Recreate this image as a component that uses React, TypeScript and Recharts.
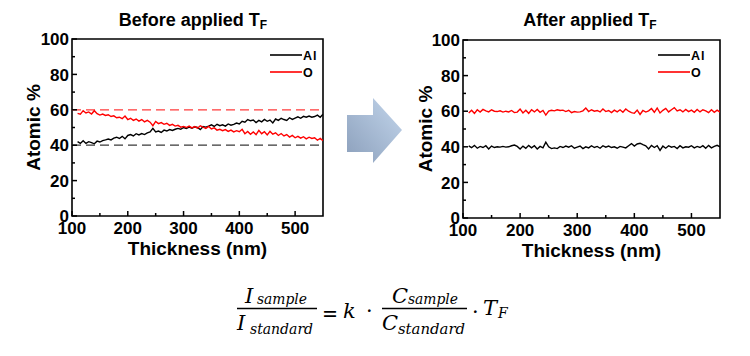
import React from 'react';
import { LineChart, Line, XAxis, YAxis, ReferenceLine, ReferenceArea, Legend, Label } from 'recharts';

const thickness = [
  110, 115, 120, 125, 130, 135, 140, 145, 150, 155,
  160, 165, 170, 175, 180, 185, 190, 195, 200, 205,
  210, 215, 220, 225, 230, 235, 240, 245, 250, 255,
  260, 265, 270, 275, 280, 285, 290, 295, 300, 305,
  310, 315, 320, 325, 330, 335, 340, 345, 350, 355,
  360, 365, 370, 375, 380, 385, 390, 395, 400, 405,
  410, 415, 420, 425, 430, 435, 440, 445, 450, 455,
  460, 465, 470, 475, 480, 485, 490, 495, 500, 505,
  510, 515, 520, 525, 530, 535, 540, 545, 550,
];

const beforeAl = [
  42, 41, 42.5, 41, 42, 41.5, 40.8, 42.3, 41.8, 42.6,
  43, 43.5, 43, 44, 44.5, 43.8, 45, 43.6, 45.5, 46,
  45.2, 46.5, 45.8, 46.6, 46, 47, 47.5, 49.5, 47.5, 48,
  47.2, 48.5, 48, 48.8, 48.3, 49, 49.5, 49, 50, 49.5,
  50.2, 49.6, 50.4, 50, 48.8, 50.5, 50.2, 50.8, 51.5, 50.6,
  51.8, 51, 51.5, 50.8, 52, 51.3, 51.8, 52.5, 52, 53.5,
  53, 54.5, 53.8, 54.2, 52.8, 54, 53.2, 54.6, 53.5, 54.2,
  52.6, 54.8, 54, 55.2, 54.5, 54, 55.5, 54.6, 55.3, 56,
  55.2, 56.3, 55.8, 56.5, 55.8, 56.2, 57, 55.8, 57.5,
];

const beforeO = [
  58, 57.5, 59.5, 58.2, 58.8, 57.6, 59.5, 57.8, 57, 57.6,
  56.8, 57.2, 56.2, 56.6, 55.5, 55.8, 55, 56.5, 54.5, 55.2,
  54, 54.8, 53.6, 54.5, 53.2, 54, 53, 51, 53.4, 52.2,
  52.8, 51.8, 52.4, 51.2, 51.8, 50.8, 51.2, 50.2, 50.6, 50,
  50.8, 49.8, 50.5, 49.6, 51, 50.2, 49.5, 50.6, 49.2, 49.8,
  48.5, 49, 48.2, 48.8, 47.8, 48.5, 47.5, 48.2, 47.6, 49,
  46.5, 47.8, 46.2, 47.5, 46, 48.4, 46.5, 47.6, 45.8, 47.8,
  46.2, 47, 45.5, 46.6, 45.2, 46, 44.6, 45.5, 44.2, 45,
  44, 44.8, 43.6, 44.5, 43.8, 44.2, 42.8, 43.8, 42.5,
];

const afterAl = [
  40.5, 39.5, 40.8, 39.2, 40.2, 39.6, 40.6, 38.8, 40.4, 39.6,
  40, 39.8, 40.2, 39.8, 40, 40.6, 41, 40.2, 38.8, 40.4,
  39.2, 40.8, 39.4, 40.6, 38.8, 40.2, 39.4, 42.6, 40, 39,
  39.4, 39, 40.2, 39.6, 40.4, 39.8, 40.6, 39.2, 39.8, 40.4,
  39, 40, 39.4, 40.6, 39.6, 40.2, 39.2, 40.6, 39.8, 40.4,
  39.6, 40, 39.2, 40.2, 39.8, 39.4, 40.6, 41.8, 40.4, 41.6,
  42, 41.2, 40.6, 38.8, 40.8, 39.6, 40.6, 38, 40.4, 39.2,
  40.6, 39.8, 40.2, 39, 40.6, 39.4, 40, 39.8, 40.6, 39.4,
  40.2, 39.6, 40.6, 39.2, 40.8, 39.4, 40.2, 40.8, 40,
];

const afterO = [
  59, 60.5, 58.8, 60.8, 59.5, 61, 60.2, 59.6, 60.8, 60,
  59.8, 60.2, 59.5, 60, 59.6, 60.4, 59.2, 59.5, 61.2, 59,
  60.5, 58.8, 60.8, 59.6, 61, 59.4, 60.4, 57.8, 60, 60.5,
  60.2, 60.8, 60.4, 60.6, 59.8, 60.5, 59.2, 59.8, 59.5, 59.6,
  60.2, 61.8, 59.8, 60.8, 60, 60.4, 59.6, 61.2, 59.8, 60.4,
  59.2, 60.6, 59.6, 60.8, 59.4, 61.2, 60, 59.2, 58.8, 60.6,
  58.2, 60.4, 59.5, 60.2, 61.5, 59.4, 61.8, 59, 60.5, 61.6,
  59.6, 60.8, 62, 60.2, 60.8, 59.6, 61, 59.8, 60.6, 59.4,
  61, 59.6, 60.8, 60.2, 59.2, 60.8, 59.4, 60.6, 59.5,
];

const xTicks = [100, 150, 200, 250, 300, 350, 400, 450, 500];
const yTicks = [0, 10, 20, 30, 40, 50, 60, 70, 80, 90, 100];
const seriesNames = ['Al', 'O'];
const referenceLevels = [60, 40];

const SANS = "'Liberation Sans', Arial, sans-serif";
const SERIF = "'DejaVu Serif', 'Liberation Serif', serif";

const beforeData = thickness.map((x, i) => ({ x, al: beforeAl[i], o: beforeO[i] }));
const afterData = thickness.map((x, i) => ({ x, al: afterAl[i], o: afterO[i] }));

const XTick = (props: any) => {
  const { x, y, payload } = props;
  const v = payload.value;
  const major = v % 100 === 0;
  return (
    <g>
      <line x1={x} x2={x} y1={y} y2={y - (major ? 5 : 3)} stroke="#000" strokeWidth={1.5} />
      {major && (
        <text x={x} y={y + 18} textAnchor="middle" fontSize={17} fontWeight="bold" fontFamily={SANS} fill="#000">
          {v}
        </text>
      )}
    </g>
  );
};

const YTick = (props: any) => {
  const { x, y, payload } = props;
  const v = payload.value;
  const major = v % 20 === 0;
  return (
    <g>
      <line x1={x} x2={x + (major ? 5 : 3)} y1={y} y2={y} stroke="#000" strokeWidth={1.5} />
      {major && (
        <text x={x - 3} y={y} dy="0.36em" textAnchor="end" fontSize={17} fontWeight="bold" fontFamily={SANS} fill="#000">
          {v}
        </text>
      )}
    </g>
  );
};

const LegendContent = (props: any) => {
  const payload = props.payload || [];
  return (
    <svg width={70} height={40} style={{ display: 'block' }}>
      {payload.map((p: any, i: number) => (
        <g key={i}>
          <line x1={0} x2={32} y1={8 + i * 17} y2={8 + i * 17} stroke={p.color} strokeWidth={1.6} />
          <text x={33} y={8 + i * 17} dy="0.36em" fontSize={12.5} fontWeight="bold" fontFamily={SANS} fill="#000" letterSpacing={1}>
            {p.value}
          </text>
        </g>
      ))}
    </svg>
  );
};

type PanelProps = {
  data: any[];
  width: number;
  height: number;
  axisWidth: number;
  top: number;
  right: number;
  labelOffset: number;
  legendLeft: number;
  dashed: boolean;
};

const Panel = ({ data, width, height, axisWidth, top, right, labelOffset, legendLeft, dashed }: PanelProps) => (
  <LineChart width={width} height={height} data={data} margin={{ top, right, bottom: 4, left: 0 }}>
    <XAxis
      dataKey="x"
      type="number"
      domain={[100, 550]}
      ticks={xTicks}
      interval={0}
      height={40}
      tickSize={0}
      tickMargin={0}
      axisLine={false}
      tickLine={false}
      tick={<XTick />}
      allowDataOverflow
    >
      <Label value="Thickness (nm)" position="insideBottom" offset={1} fontSize={19} fontWeight="bold" fontFamily={SANS} fill="#000" />
    </XAxis>
    <YAxis
      type="number"
      domain={[0, 100]}
      ticks={yTicks}
      interval={0}
      width={axisWidth}
      tickSize={0}
      tickMargin={0}
      axisLine={false}
      tickLine={false}
      tick={<YTick />}
      allowDataOverflow
    >
      <Label
        value="Atomic %"
        angle={-90}
        position="insideLeft"
        offset={labelOffset}
        fontSize={19}
        fontWeight="bold"
        fontFamily={SANS}
        fill="#000"
        style={{ textAnchor: 'middle' }}
      />
    </YAxis>
    {dashed && (
      <ReferenceLine y={referenceLevels[0]} stroke="#ff3b3b" strokeWidth={1.3} strokeDasharray="9 5" />
    )}
    {dashed && (
      <ReferenceLine y={referenceLevels[1]} stroke="#3a3a3a" strokeWidth={1.3} strokeDasharray="9 5" />
    )}
    <Line dataKey="al" name={seriesNames[0]} stroke="#000" strokeWidth={1.4} dot={false} isAnimationActive={false} type="linear" />
    <Line dataKey="o" name={seriesNames[1]} stroke="#ff0000" strokeWidth={1.4} dot={false} isAnimationActive={false} type="linear" />
    <ReferenceArea x1={100} x2={550} y1={0} y2={100} stroke="#000" strokeWidth={1.6} fill="none" fillOpacity={0} />
    <Legend
      layout="vertical"
      align="center"
      verticalAlign="middle"
      content={<LegendContent />}
      wrapperStyle={{ left: legendLeft, top: 47, width: 70, height: 40 }}
    />
  </LineChart>
);

const titleStyle: React.CSSProperties = {
  position: 'absolute',
  top: 11,
  textAlign: 'center',
  fontFamily: SANS,
  fontWeight: 'bold',
  fontSize: 18,
  lineHeight: '18px',
  color: '#000',
  whiteSpace: 'nowrap',
};

const subStyle: React.CSSProperties = { fontSize: 12, position: 'relative', top: 3 };

export default function App() {
  return (
    <div style={{ position: 'absolute', left: 0, top: 0, width: 750, height: 356, background: '#fff', overflow: 'hidden' }}>
      <div style={{ ...titleStyle, left: 0, width: 386 }}>
        Before applied T<span style={subStyle}>F</span>
      </div>
      <div style={{ ...titleStyle, left: 390, width: 400 }}>
        After applied T<span style={subStyle}>F</span>
      </div>
      <div style={{ position: 'absolute', left: 0, top: 0 }}>
        <Panel data={beforeData} width={340} height={260} axisWidth={72} top={39} right={17} labelOffset={33} legendLeft={270} dashed />
      </div>
      <div style={{ position: 'absolute', left: 390, top: 0 }}>
        <Panel data={afterData} width={350} height={262} axisWidth={73} top={40} right={20} labelOffset={35} legendLeft={268} dashed={false} />
      </div>
      <svg width={750} height={356} style={{ position: 'absolute', left: 0, top: 0, pointerEvents: 'none' }}>
        <defs>
          <linearGradient id="arrowGrad" x1="0" y1="1" x2="1" y2="0">
            <stop offset="0" stopColor="#8b9fbb" />
            <stop offset="1" stopColor="#c3d6ec" />
          </linearGradient>
        </defs>
        <polygon points="347,115 373,115 373,98 402,130 373,163 373,152 347,152" fill="url(#arrowGrad)" />
        <g fontFamily={SERIF} fontStyle="italic" fill="#000">
          <text x={245} y={303} fontSize={21}>I</text>
          <text x={257} y={304} fontSize={14} textLength={50} lengthAdjust="spacingAndGlyphs">sample</text>
          <line x1={237} x2={317} y1={308.5} y2={308.5} stroke="#000" strokeWidth={1.3} />
          <text x={237} y={330} fontSize={21}>I</text>
          <text x={250} y={334} fontSize={14} textLength={63} lengthAdjust="spacingAndGlyphs">standard</text>
          <text x={322} y={321} fontSize={22} fontStyle="normal" textLength={16} lengthAdjust="spacingAndGlyphs">=</text>
          <text x={343} y={318} fontSize={21}>k</text>
          <text x={366} y={318} fontSize={21} fontStyle="normal">·</text>
          <text x={392} y={303} fontSize={21}>C</text>
          <text x={408} y={304} fontSize={14} textLength={50} lengthAdjust="spacingAndGlyphs">sample</text>
          <line x1={382} x2={467} y1={308.5} y2={308.5} stroke="#000" strokeWidth={1.3} />
          <text x={382} y={330} fontSize={21}>C</text>
          <text x={398} y={334} fontSize={14} textLength={67} lengthAdjust="spacingAndGlyphs">standard</text>
          <text x={472} y={319} fontSize={21} fontStyle="normal">·</text>
          <text x={483} y={315} fontSize={21}>T</text>
          <text x={498} y={318} fontSize={14}>F</text>
        </g>
      </svg>
    </div>
  );
}
